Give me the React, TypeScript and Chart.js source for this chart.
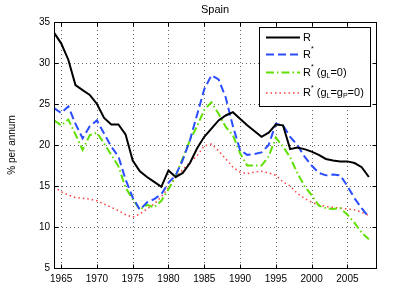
import React, { useEffect, useRef } from 'react';
import { Chart, registerables } from 'chart.js';

Chart.register(...registerables);

// ---- data ----
const years = [
  1964, 1965, 1966, 1967, 1968, 1969, 1970, 1971, 1972, 1973,
  1974, 1975, 1976, 1977, 1978, 1979, 1980, 1981, 1982, 1983,
  1984, 1985, 1986, 1987, 1988, 1989, 1990, 1991, 1992, 1993,
  1994, 1995, 1996, 1997, 1998, 1999, 2000, 2001, 2002, 2003,
  2004, 2005, 2006, 2007, 2008,
];

const R = [
  33.7, 32.4, 30.4, 27.3, 26.7, 26.1, 25.0, 23.3, 22.5, 22.5,
  21.3, 18.1, 16.8, 16.1, 15.5, 14.9, 16.9, 16.1, 16.6, 17.8,
  19.6, 21.0, 22.0, 23.0, 23.6, 24.0, 23.2, 22.4, 21.7, 21.0,
  21.5, 22.5, 22.4, 19.5, 19.7, 19.5, 19.2, 18.8, 18.3, 18.1,
  18.0, 18.0, 17.8, 17.3, 16.1,
];

const Rstar = [
  24.5, 23.9, 24.7, 22.6, 20.8, 22.3, 23.0, 21.4, 19.8, 18.6,
  15.8, 13.6, 12.1, 13.0, 13.4, 14.0, 15.4, 16.3, 18.2, 20.6,
  23.7, 26.8, 28.5, 28.0, 25.8, 22.3, 19.4, 18.8, 18.9, 19.1,
  20.0, 22.6, 22.4, 21.0, 20.0, 18.6, 17.5, 16.6, 16.3, 16.4,
  16.3, 15.0, 13.5, 12.3, 11.2,
];

const RstarGL0 = [
  23.0, 22.4, 23.1, 21.3, 19.4, 21.2, 21.5, 20.2, 18.8, 17.4,
  14.8, 13.4, 12.1, 12.7, 12.4, 13.2, 14.6, 16.2, 18.4, 20.6,
  22.3, 24.3, 25.2, 23.8, 22.2, 21.2, 19.0, 17.5, 17.5, 17.5,
  18.6, 20.9, 19.8, 18.5, 16.6, 15.0, 13.9, 12.6, 12.3, 12.2,
  12.3, 11.5, 10.5, 9.3, 8.5,
];

const RstarGLGP0 = [
  14.9, 14.3, 13.9, 13.6, 13.5, 13.4, 13.2, 12.8, 12.4, 12.0,
  11.5, 11.2, 11.6, 12.2, 12.8, 13.7, 14.8, 16.0, 17.0, 17.9,
  18.7, 19.9, 20.1, 19.3, 18.3, 17.3, 16.7, 16.5, 16.7, 16.8,
  16.6, 16.3, 15.5, 15.0, 14.1, 13.5, 13.0, 12.7, 12.5, 12.4,
  12.3, 12.2, 12.1, 11.8, 11.4,
];

const xTickValues = [1965, 1970, 1975, 1980, 1985, 1990, 1995, 2000, 2005];
const yTickValues = [5, 10, 15, 20, 25, 30, 35];

const titleText = 'Spain';
const yTitleText = '% per annum';

// legend label parts: [text, kind] where kind is n (normal), sup, sub
type Part = [string, 'n' | 'sup' | 'sub'];
const legendLabels: Part[][] = [
  [['R', 'n']],
  [['R', 'n'], ['*', 'sup']],
  [['R', 'n'], ['*', 'sup'], [' (g', 'n'], ['L', 'sub'], ['=0)', 'n']],
  [['R', 'n'], ['*', 'sup'], [' (g', 'n'], ['L', 'sub'], ['=g', 'n'], ['P', 'sub'], ['=0)', 'n']],
];

const FONT = "'Liberation Sans', Arial, Helvetica, sans-serif";

const framePlugin = {
  id: 'matlabFrame',
  beforeDatasetsDraw(chart: any) {
    const { ctx, chartArea: a, scales } = chart;
    const x = scales.x;
    const y = scales.y;
    ctx.save();
    ctx.strokeStyle = 'rgba(0,0,0,0.6)';
    ctx.lineWidth = 1;
    ctx.setLineDash([1, 3]);
    xTickValues.forEach((v) => {
      const px = Math.round(x.getPixelForValue(v)) + 0.5;
      ctx.beginPath();
      ctx.moveTo(px, a.top);
      ctx.lineTo(px, a.bottom);
      ctx.stroke();
    });
    yTickValues.forEach((v) => {
      const py = Math.round(y.getPixelForValue(v)) + 0.5;
      ctx.beginPath();
      ctx.moveTo(a.left, py);
      ctx.lineTo(a.right, py);
      ctx.stroke();
    });
    ctx.restore();
  },
  afterDatasetsDraw(chart: any) {
    const { ctx, chartArea: a, scales } = chart;
    const x = scales.x;
    const y = scales.y;
    ctx.save();
    ctx.setLineDash([]);
    ctx.strokeStyle = '#000';
    ctx.lineWidth = 1;
    const L = Math.round(a.left) + 0.5;
    const Rr = Math.round(a.right) + 0.5;
    const T = Math.round(a.top) + 0.5;
    const B = Math.round(a.bottom) + 0.5;
    ctx.strokeRect(L, T, Rr - L, B - T);
    const tl = 4;
    xTickValues.forEach((v) => {
      const px = Math.round(x.getPixelForValue(v)) + 0.5;
      ctx.beginPath();
      ctx.moveTo(px, B);
      ctx.lineTo(px, B - tl);
      ctx.moveTo(px, T);
      ctx.lineTo(px, T + tl);
      ctx.stroke();
    });
    yTickValues.forEach((v) => {
      const py = Math.round(y.getPixelForValue(v)) + 0.5;
      ctx.beginPath();
      ctx.moveTo(L, py);
      ctx.lineTo(L + tl, py);
      ctx.moveTo(Rr, py);
      ctx.lineTo(Rr - tl, py);
      ctx.stroke();
    });

    // legend
    const bx = 259.5;
    const by = 27.5;
    const bw = 111;
    const bh = 79;
    ctx.fillStyle = '#fff';
    ctx.fillRect(bx, by, bw, bh);
    ctx.strokeStyle = '#000';
    ctx.strokeRect(bx, by, bw, bh);
    const rowY = [37.5, 54.5, 72.5, 93];
    chart.data.datasets.forEach((ds: any, i: number) => {
      const ly = rowY[i];
      ctx.save();
      ctx.strokeStyle = ds.borderColor;
      ctx.lineWidth = ds.borderWidth;
      ctx.setLineDash(ds.borderDash || []);
      ctx.beginPath();
      ctx.moveTo(266, ly);
      ctx.lineTo(300, ly);
      ctx.stroke();
      ctx.restore();
      let tx = 303;
      ctx.fillStyle = '#000';
      ctx.textBaseline = 'middle';
      ctx.textAlign = 'left';
      legendLabels[i].forEach(([t, k]) => {
        let size = 11;
        let dy = 0;
        if (k === 'sup') { size = 7; dy = -5; }
        if (k === 'sub') { size = 7; dy = 3.5; }
        ctx.font = `${size}px ${FONT}`;
        ctx.fillText(t, tx, ly + dy);
        tx += ctx.measureText(t).width;
      });
    });
    ctx.restore();
  },
};

export default function App() {
  const ref = useRef<HTMLCanvasElement | null>(null);

  useEffect(() => {
    document.body.style.margin = '0';
    const canvas = ref.current;
    if (!canvas) return;
    Chart.defaults.font.family = FONT;
    Chart.defaults.color = '#000';

    const toPts = (vals: number[]) => years.map((yr, i) => ({ x: yr, y: vals[i] }));

    const chart = new Chart(canvas, {
      type: 'line',
      data: {
        datasets: [
          {
            label: 'R',
            data: toPts(R),
            borderColor: '#000000',
            borderWidth: 2,
            borderDash: [],
            pointRadius: 0,
            tension: 0,
          },
          {
            label: 'R*',
            data: toPts(Rstar),
            borderColor: '#2a4dff',
            borderWidth: 2,
            borderDash: [8, 4],
            pointRadius: 0,
            tension: 0,
          },
          {
            label: 'R* (gL=0)',
            data: toPts(RstarGL0),
            borderColor: '#5fe000',
            borderWidth: 2,
            borderDash: [8, 3, 1.5, 3],
            pointRadius: 0,
            tension: 0,
          },
          {
            label: 'R* (gL=gP=0)',
            data: toPts(RstarGLGP0),
            borderColor: '#ff4040',
            borderWidth: 1.5,
            borderDash: [1.5, 3],
            pointRadius: 0,
            tension: 0,
          },
        ],
      },
      options: {
        responsive: false,
        animation: false,
        devicePixelRatio: 1,
        layout: { padding: { left: 0, right: 39, top: 0, bottom: 0 } },
        plugins: {
          legend: { display: false },
          tooltip: { enabled: false },
          title: {
            display: true,
            text: titleText,
            fullSize: false,
            color: '#000',
            font: { size: 11, weight: 'normal', family: FONT },
            padding: { top: 3, bottom: 5.8 },
          },
        },
        scales: {
          x: {
            type: 'linear',
            min: 1964,
            max: 2009,
            afterBuildTicks: (s: any) => {
              s.ticks = xTickValues.map((v) => ({ value: v }));
            },
            afterFit: (s: any) => {
              s.height = 35;
            },
            grid: { display: false, drawTicks: false },
            border: { display: false },
            ticks: {
              padding: 5,
              maxRotation: 0,
              autoSkip: false,
              font: { size: 10, family: FONT },
              color: '#000',
              callback: (v: any) => String(v),
            },
          },
          y: {
            type: 'linear',
            min: 5,
            max: 35,
            afterBuildTicks: (s: any) => {
              s.ticks = yTickValues.map((v) => ({ value: v }));
            },
            afterFit: (s: any) => {
              s.width = 54;
            },
            grid: { display: false, drawTicks: false },
            border: { display: false },
            title: {
              display: true,
              text: yTitleText,
              font: { size: 10, family: FONT },
              color: '#000',
              padding: { top: 6, bottom: 0 },
            },
            ticks: {
              padding: 4,
              font: { size: 10, family: FONT },
              color: '#000',
              callback: (v: any) => String(v),
            },
          },
        },
      },
      plugins: [framePlugin],
    });

    return () => chart.destroy();
  }, []);

  return (
    <div style={{ width: 415, height: 303 }}>
      <canvas ref={ref} width={415} height={303} />
    </div>
  );
}
